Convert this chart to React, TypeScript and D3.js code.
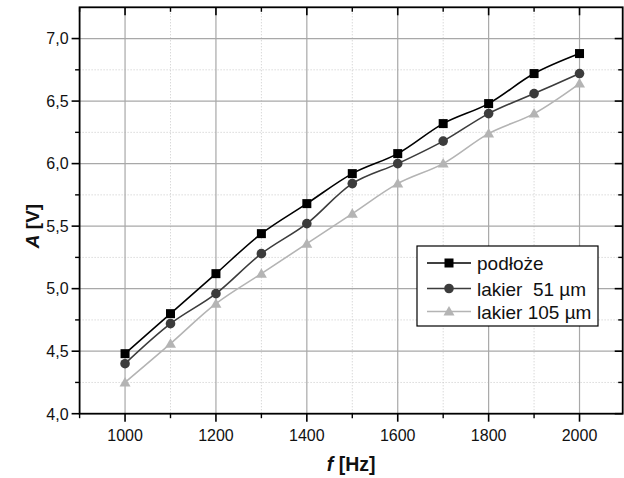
import React from "react";
import * as d3 from "d3";

// dane
const freqs = [1000, 1100, 1200, 1300, 1400, 1500, 1600, 1700, 1800, 1900, 2000];
const podloze = [4.48, 4.8, 5.12, 5.44, 5.68, 5.92, 6.08, 6.32, 6.48, 6.72, 6.88];
const lakier51 = [4.4, 4.72, 4.96, 5.28, 5.52, 5.84, 6.0, 6.18, 6.4, 6.56, 6.72];
const lakier105 = [4.25, 4.56, 4.88, 5.12, 5.36, 5.6, 5.84, 6.0, 6.24, 6.4, 6.64];

const xMajor = [1000, 1200, 1400, 1600, 1800, 2000];
const xMinor = [900, 1100, 1300, 1500, 1700, 1900, 2100];
const yMajor = [4.0, 4.5, 5.0, 5.5, 6.0, 6.5, 7.0];
const yMinor = [4.25, 4.75, 5.25, 5.75, 6.25, 6.75];

const series = [
  { name: "podłoże", values: podloze, color: "#000000", marker: "square" },
  { name: "lakier  51 µm", values: lakier51, color: "#3c3c3c", marker: "circle" },
  { name: "lakier 105 µm", values: lakier105, color: "#b4b4b4", marker: "triangle" },
];

const font = "'Liberation Sans', Arial, sans-serif";

function Marker({ type, x, y, color }: { type: string; x: number; y: number; color: string }) {
  if (type === "square") return <rect x={x - 4.5} y={y - 4.5} width={9} height={9} fill={color} />;
  if (type === "circle") return <circle cx={x} cy={y} r={4.8} fill={color} />;
  return <path d={`M${x},${y - 5.5}L${x + 5.5},${y + 4}L${x - 5.5},${y + 4}Z`} fill={color} />;
}

export default function App() {
  const width = 624;
  const height = 478;

  const x = d3.scaleLinear().domain([900, 2095]).range([79.6, 622.7]);
  const y = d3.scaleLinear().domain([4.0, 7.25]).range([413.7, 7.3]);

  const left = x(900);
  const right = x(2095);
  const top = y(7.25);
  const bottom = y(4.0);

  const line = d3
    .line<number>()
    .x((_, i) => x(freqs[i]))
    .y((v) => y(v))
    .curve(d3.curveCatmullRom.alpha(0.5));

  const legX = 417;
  const legY = 246;
  const legRows = [263, 288.5, 311.5];

  return (
    <svg width={width} height={height} style={{ position: "absolute", left: 0, top: 0 }} fontFamily={font}>
      <rect width={width} height={height} fill="#fff" />
      {/* siatka pomocnicza */}
      {xMinor.filter((v) => v > 900 && v < 2095).map((v) => (
        <line key={"xm" + v} x1={x(v)} x2={x(v)} y1={top} y2={bottom} stroke="#c8c8c8" strokeDasharray="1,2" />
      ))}
      {yMinor.map((v) => (
        <line key={"ym" + v} x1={left} x2={right} y1={y(v)} y2={y(v)} stroke="#c8c8c8" strokeDasharray="1,2" />
      ))}
      {/* siatka glowna */}
      {xMajor.map((v) => (
        <line key={"xM" + v} x1={x(v)} x2={x(v)} y1={top} y2={bottom} stroke="#a8a8a8" strokeWidth={1.2} />
      ))}
      {yMajor.slice(1).map((v) => (
        <line key={"yM" + v} x1={left} x2={right} y1={y(v)} y2={y(v)} stroke="#a8a8a8" strokeWidth={1.2} />
      ))}

      {/* krzywe */}
      {series.map((s) => (
        <g key={s.name}>
          <path d={line(s.values) || ""} fill="none" stroke={s.color} strokeWidth={1.6} />
          {s.values.map((v, i) => (
            <Marker key={i} type={s.marker} x={x(freqs[i])} y={y(v)} color={s.color} />
          ))}
        </g>
      ))}

      {/* ramka i ticki */}
      <rect x={left} y={top} width={right - left} height={bottom - top} fill="none" stroke="#000" strokeWidth={1.8} />
      {xMajor.map((v) => (
        <g key={"tx" + v}>
          <line x1={x(v)} x2={x(v)} y1={bottom} y2={bottom + 8} stroke="#000" strokeWidth={1.6} />
          <line x1={x(v)} x2={x(v)} y1={top} y2={top + 8} stroke="#000" strokeWidth={1.6} />
          <text x={x(v)} y={bottom + 27} textAnchor="middle" fontSize={16} fill="#111">
            {v}
          </text>
        </g>
      ))}
      {xMinor.filter((v) => v < 2095).map((v) => (
        <g key={"txm" + v}>
          <line x1={x(v)} x2={x(v)} y1={bottom} y2={bottom + 4.5} stroke="#000" strokeWidth={1.4} />
          <line x1={x(v)} x2={x(v)} y1={top} y2={top + 4.5} stroke="#000" strokeWidth={1.4} />
        </g>
      ))}
      {yMajor.map((v) => (
        <g key={"ty" + v}>
          <line x1={left - 8} x2={left} y1={y(v)} y2={y(v)} stroke="#000" strokeWidth={1.6} />
          <line x1={right - 8} x2={right} y1={y(v)} y2={y(v)} stroke="#000" strokeWidth={1.6} />
          <text x={left - 11} y={y(v) + 5.8} textAnchor="end" fontSize={16} fill="#111">
            {d3.format(".1f")(v).replace(".", ",")}
          </text>
        </g>
      ))}
      {yMinor.map((v) => (
        <g key={"tym" + v}>
          <line x1={left - 4.5} x2={left} y1={y(v)} y2={y(v)} stroke="#000" strokeWidth={1.4} />
          <line x1={right - 4.5} x2={right} y1={y(v)} y2={y(v)} stroke="#000" strokeWidth={1.4} />
        </g>
      ))}

      {/* tytuly osi */}
      <text x={(left + right) / 2} y={471} textAnchor="middle" fontSize={19.5} fontWeight="bold" fill="#111">
        <tspan fontStyle="italic">f</tspan> [Hz]
      </text>
      <text
        transform={`translate(39,${226}) rotate(-90)`}
        textAnchor="middle"
        fontSize={19}
        fontWeight="bold"
        fill="#111"
      >
        <tspan fontStyle="italic">A</tspan> [V]
      </text>

      {/* legenda */}
      <rect x={legX} y={legY} width={181} height={80} fill="#fff" stroke="#000" strokeWidth={1.2} />
      {series.map((s, i) => (
        <g key={"leg" + i}>
          <line x1={427} x2={471} y1={legRows[i]} y2={legRows[i]} stroke={s.color} strokeWidth={1.6} />
          <Marker type={s.marker} x={449} y={legRows[i]} color={s.color} />
          <text x={477} y={legRows[i] + 7} fontSize={19} fill="#111" style={{ whiteSpace: "pre" }}>
            {s.name}
          </text>
        </g>
      ))}
    </svg>
  );
}
